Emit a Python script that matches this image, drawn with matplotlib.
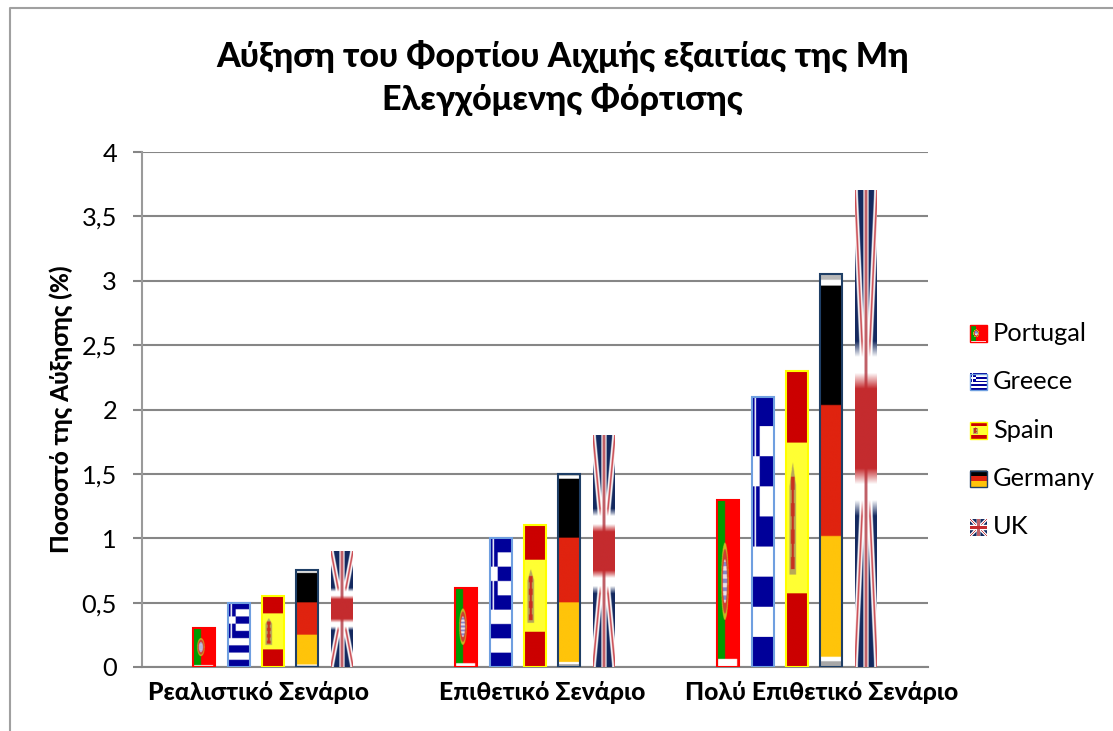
import numpy as np
import matplotlib
matplotlib.use('Agg')
import matplotlib.pyplot as plt
from matplotlib.colors import to_rgb
from matplotlib.image import BboxImage
from matplotlib.legend_handler import HandlerBase
from matplotlib.patches import Rectangle
from matplotlib.transforms import Bbox, ScaledTranslation, TransformedBbox

plt.rcParams['font.family'] = ['Lato', 'Noto Sans', 'DejaVu Sans']

title = 'Αύξηση του Φορτίου Αιχμής εξαιτίας της Μη\nΕλεγχόμενης Φόρτισης'
ylabel = 'Ποσοστό της Αύξησης (%)'
scenarios = ['Ρεαλιστικό Σενάριο', 'Επιθετικό Σενάριο', 'Πολύ Επιθετικό Σενάριο']
countries = ['Portugal', 'Greece', 'Spain', 'Germany', 'UK']
portugal = [0.3, 0.61, 1.3]
greece = [0.5, 1.0, 2.1]
spain = [0.55, 1.1, 2.3]
germany = [0.75, 1.5, 3.05]
uk = [0.9, 1.8, 3.7]
yticks = [0, 0.5, 1, 1.5, 2, 2.5, 3, 3.5, 4]
ytick_labels = ['0', '0,5', '1', '1,5', '2', '2,5', '3', '3,5', '4']
edge_colors = ['#ff0000', '#6f9fe0', '#ffff00', '#1f3f66', None]
label_shift_px = [-15, 7, 25]


def blank(color, h=270, w=120):
    img = np.zeros((h, w, 3))
    img[:] = to_rgb(color)
    return img


def grid(h=270, w=120):
    y, x = np.mgrid[0:h, 0:w]
    return (x + 0.5) / w, (y + 0.5) / h


def flag_portugal():
    img = blank('#ff0000')
    x, y = grid()
    img[x < 0.37] = to_rgb('#009a00')
    r = ((x - 0.36) / 0.17) ** 2 + ((y - 0.49) / 0.23) ** 2
    img[r < 1] = to_rgb('#c8b820')
    img[r < 0.7] = to_rgb('#d04030')
    img[r < 0.32] = to_rgb('#8888c8')
    img[(r < 0.32) & ((y * 40).astype(int) % 2 == 0)] = to_rgb('#e8e0e8')
    img[(y > 0.95) & (x > 0.04) & (x < 0.92)] = (1, 1, 1)
    return img


def flag_greece():
    img = blank('#ffffff')
    x, y = grid()
    band = (y * 9).astype(int)
    img[band % 2 == 0] = to_rgb('#000099')
    canton = (x < 0.35) & (y < 0.555)
    img[canton] = to_rgb('#000099')
    img[canton & (abs(x - 0.15) < 0.035)] = (1, 1, 1)
    img[canton & (abs(y - 0.278) < 0.055)] = (1, 1, 1)
    return img


def flag_spain():
    img = blank('#ffff33')
    x, y = grid()
    img[(y < 0.245) | (y > 0.75)] = to_rgb('#cc0000')
    spread = np.clip((y - 0.31) / 0.08, 0, 1) * 0.15
    crest = (abs(x - 0.31) < spread) & (y < 0.69)
    img[crest] = to_rgb('#b8a858')
    core = 0.05 + 0.035 * (np.sin(y * 70) > 0)
    img[crest & (abs(x - 0.31) < core) & (y > 0.36) & (y < 0.67)] = to_rgb('#c83020')
    return img


def flag_germany():
    img = blank('#e0230f')
    x, y = grid()
    img[y < 0.335] = (0, 0, 0)
    img[y > 0.665] = to_rgb('#ffc40a')
    img[y < 0.03] = (1, 1, 1)
    img[y < 0.015] = to_rgb('#b8b8b8')
    img[y > 0.975] = (1, 1, 1)
    img[y > 0.987] = to_rgb('#a8a8a8')
    return img


def flag_uk():
    img = blank('#14295f')
    x, y = grid()
    d1 = abs((x - 0.5) - (y - 0.5))
    d2 = abs((x - 0.5) + (y - 0.5))
    img[(d1 < 0.12) | (d2 < 0.12)] = (1, 1, 1)
    img[(d1 < 0.04) | (d2 < 0.04)] = to_rgb('#c8484f')
    img[abs(x - 0.5) < 0.12] = (1, 1, 1)
    img[abs(y - 0.5) < 0.167] = (1, 1, 1)
    img[abs(x - 0.5) < 0.07] = to_rgb('#c06068')
    img[abs(y - 0.5) < 0.1] = to_rgb('#c42b2e')
    # difuminado vertical, la bandera original esta muy estirada
    kernel = np.ones(9) / 9
    padded = np.pad(img, ((4, 4), (0, 0), (0, 0)), mode='edge')
    return np.apply_along_axis(lambda col: np.convolve(col, kernel, mode='valid'), 0, padded)


flags = [flag_portugal(), flag_greece(), flag_spain(), flag_germany(), flag_uk()]
series = [portugal, greece, spain, germany, uk]


class FlagHandler(HandlerBase):
    def __init__(self, img, edge):
        super().__init__()
        self.img = img
        self.edge = edge

    def create_artists(self, legend, orig_handle, xdescent, ydescent, width, height, fontsize, trans):
        x0 = -xdescent
        bbox = TransformedBbox(Bbox([[x0, -1], [x0 + 12, 11]]), trans)
        image = BboxImage(bbox, interpolation='bilinear', origin='upper')
        image.set_data(self.img)
        artists = [image]
        if self.edge:
            artists.append(Rectangle((x0, -1), 12, 12, fill=False, edgecolor=self.edge, lw=1, transform=trans))
        return artists


fig = plt.figure(figsize=(11.13, 7.31), dpi=100)
ax = fig.add_axes([142 / 1113, 1 - 667 / 731, (928 - 142) / 1113, (667 - 152) / 731])

x = np.arange(len(scenarios))
bar_w = 0.083
step = 0.131

handles = []
for i, values in enumerate(series):
    pos = x + (i - 2) * step
    bars = ax.bar(pos, values, bar_w, facecolor='none', edgecolor=edge_colors[i] or 'none', linewidth=1.5, zorder=4)
    handles.append(bars[0])
    for rect in bars:
        left = rect.get_x()
        ax.imshow(flags[i], extent=(left, left + rect.get_width(), 0, rect.get_height()),
                  aspect='auto', interpolation='bilinear', zorder=3)

ax.set_xlim(-0.5, 2.5)
ax.set_ylim(0, 4)
ax.set_xticks(x)
ax.set_xticklabels(scenarios, fontsize=17.8, fontweight='black')
ax.set_yticks(yticks)
ax.set_yticklabels(ytick_labels, fontsize=18.3)
ax.set_ylabel(ylabel, fontsize=17.5, fontweight='black')
ax.yaxis.set_label_coords(-0.0875, 0.5)
ax.tick_params(axis='y', length=6.5, width=1.5, color='#868686', pad=11.5)
ax.tick_params(axis='x', length=0, pad=10)
ax.grid(axis='y', color='#868686', linewidth=1.5, zorder=1)
ax.set_axisbelow(True)
for side in ['top', 'right']:
    ax.spines[side].set_visible(False)
for side in ['left', 'bottom']:
    ax.spines[side].set_color('#9a9a9a')
    ax.spines[side].set_linewidth(1.5)
ax.spines['bottom'].set_color('#868686')

# las etiquetas del eje no estan centradas en cada grupo
for lab, dx in zip(ax.get_xticklabels(), label_shift_px):
    lab.set_transform(lab.get_transform() + ScaledTranslation(dx / 100, 0, fig.dpi_scale_trans))

fig.text(563 / 1113, 1 - 78 / 731, title, fontsize=24.5, fontweight='black', ha='center', va='center', linespacing=1.38)

leg = fig.legend(handles, countries, loc='center left', bbox_to_anchor=(970 / 1113, 1 - 430 / 731),
                 frameon=False, fontsize=18.3, labelspacing=1.0, handlelength=0.66, handletextpad=0.24,
                 borderpad=0, borderaxespad=0,
                 handler_map={h: FlagHandler(flags[i], edge_colors[i]) for i, h in enumerate(handles)})

# marco exterior del grafico
fig.add_artist(plt.Line2D([9.5 / 1113, 9.5 / 1113, 1], [0, 1 - 7.5 / 731, 1 - 7.5 / 731], color='#a0a0a0', linewidth=1.5))

fig.savefig('out.png', dpi=100)
